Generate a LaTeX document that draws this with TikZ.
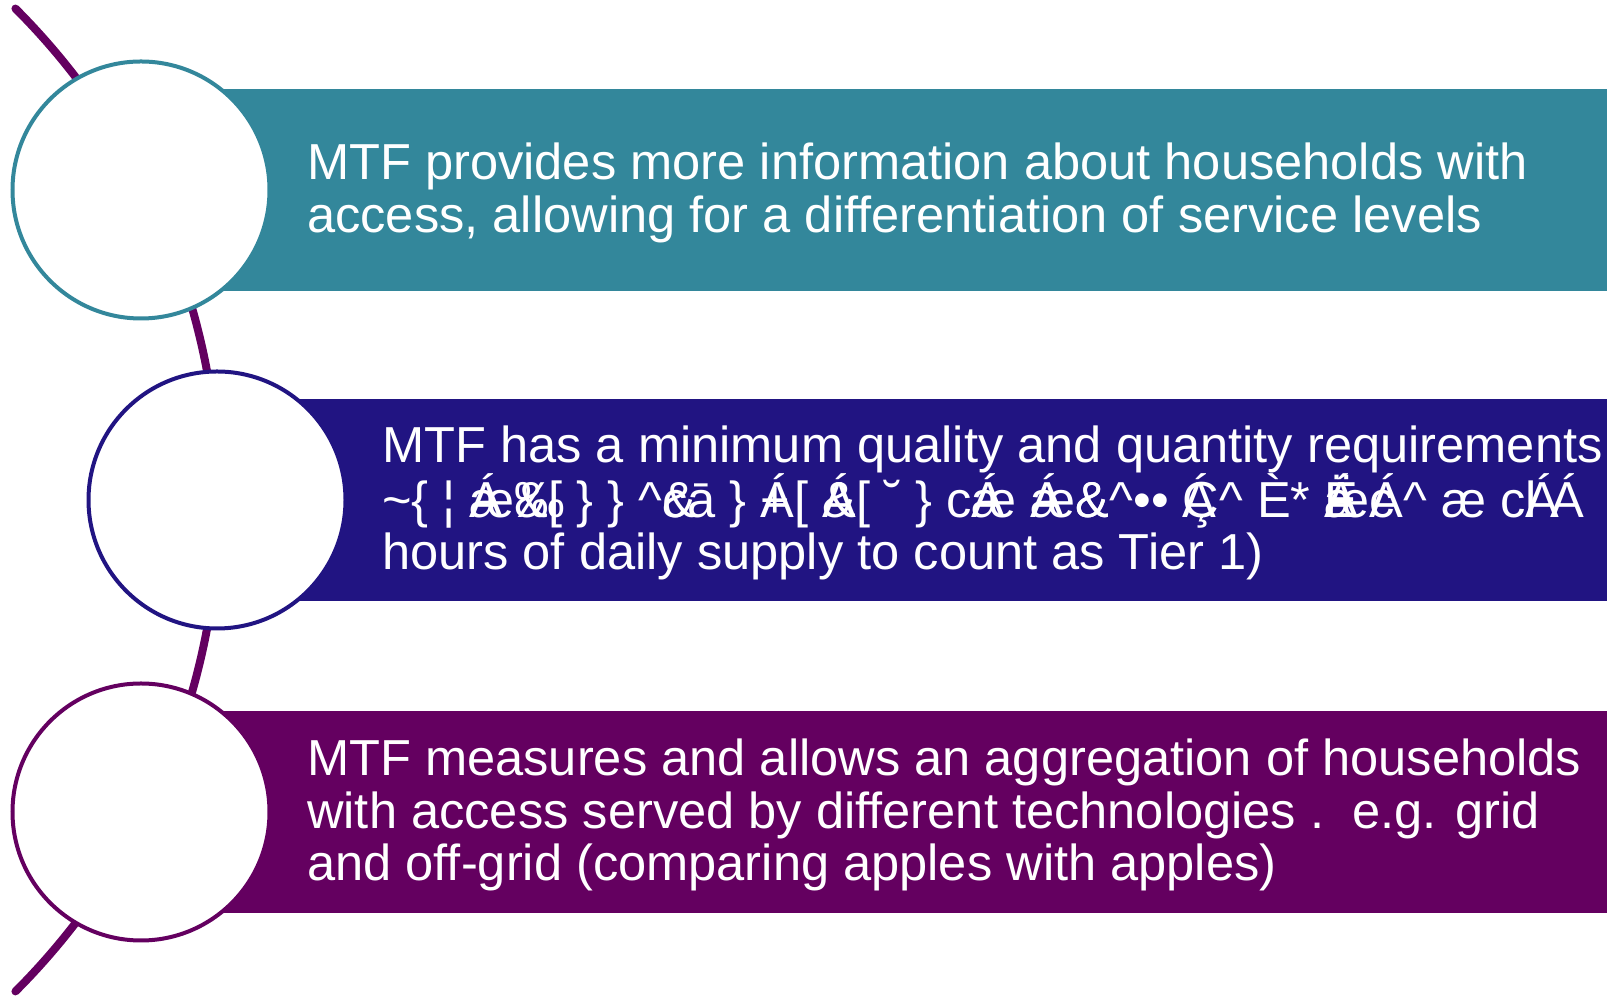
\documentclass[tikz,border=0pt]{standalone}
\usepackage{fontspec}
\setmainfont{Liberation Sans}
\usetikzlibrary{positioning}
\definecolor{mtfteal}{RGB}{51,135,155}
\definecolor{mtfnavy}{RGB}{33,20,130}
\definecolor{mtfplum}{RGB}{100,0,96}
\newcommand{\crt}{\textasciicircum}

\begin{document}
\begin{tikzpicture}[
  x=1pt, y=1pt,
  bubble/.style={circle,draw=#1,line width=4pt,fill=white,minimum size=257pt,inner sep=0pt},
  band/.style={fill=#1,anchor=west,minimum height=202pt,inner sep=0pt},
  bandtext/.style={anchor=west,text=white,align=left,inner sep=0pt,
    font=\fontsize{50.6}{52.4}\selectfont}
]
\useasboundingbox (0,0) rectangle (1607,998);

\coordinate (p1) at (141,808);
\coordinate (p2) at (217,498);
\coordinate (p3) at (141,186);

% spine behind the bubbles
\draw[mtfplum,line width=8pt,line cap=round] (-476,498) ++(-45:695) arc[start angle=-45,end angle=45,radius=695];

\node[band=mtfteal,minimum width=1466pt] (band1) at (p1) {};
\node[band=mtfnavy,minimum width=1390pt] (band2) at (p2) {};
\node[band=mtfplum,minimum width=1466pt] (band3) at (p3) {};

\node[bubble=mtfteal] (bub1) at (p1) {};
\node[bubble=mtfnavy] (bub2) at (p2) {};
\node[bubble=mtfplum] (bub3) at (p3) {};

\node[bandtext] (txt1) at (307,805) {MTF provides more information about households with\\
  access, allowing for a differentiation of service levels};
\node[bandtext] (txt2) at (382,495) {MTF has a minimum quality and quantity requirements\\
  \textasciitilde\{ ¦ \rlap{Á}æ\rlap{‰}\&[ \} \} \crt\rlap{\&}cā \} \rlap{+}Á[ \rlap{Á}\&[ ˘ \} c\rlap{Á}æ \rlap{Á}æ\rlap{\&}\&\crt•• \rlap{Á}Ç\crt\ È* \rlap{Ë}\rlap{Á}æ\rlap{c}Á\crt\ æ c\rlap{Á}l Á\\
  hours of daily supply to count as Tier 1)};
\node[bandtext] (txt3) at (307,183) {MTF measures and allows an aggregation of households\\
  with access served by different technologies .\ \ e.g. grid\\
  and off-grid (comparing apples with apples)};
\end{tikzpicture}
\end{document}
